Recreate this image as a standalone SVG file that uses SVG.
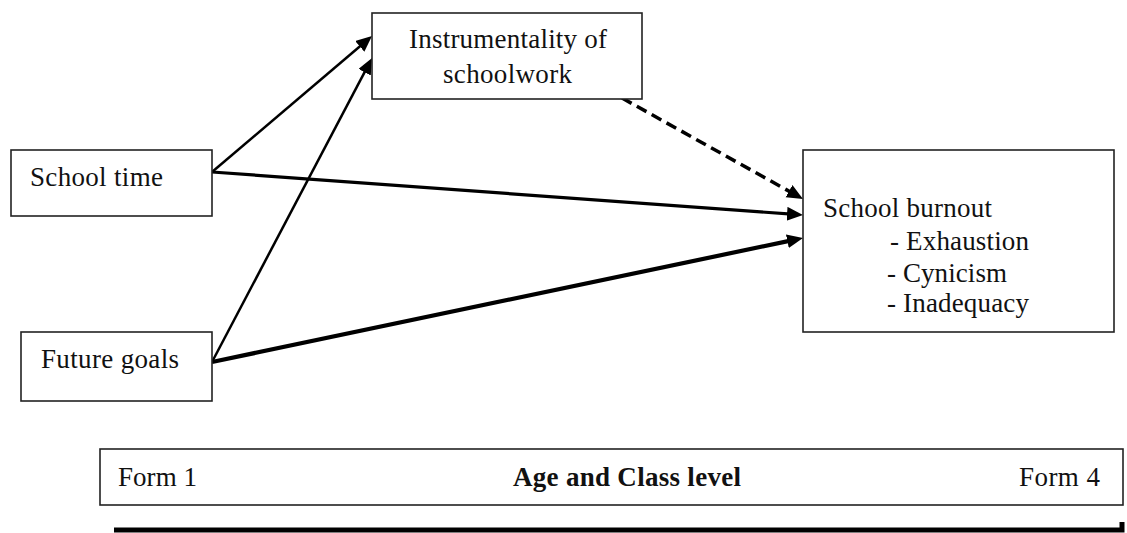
<svg xmlns="http://www.w3.org/2000/svg" width="1127" height="533" viewBox="0 0 1127 533">
<style>
.box{fill:#fff;stroke:#222;stroke-width:1.6}
.t{font-family:"Liberation Serif","Times New Roman",serif;font-size:27px;fill:#111}
.b{font-weight:bold}
.c{fill:none;stroke:#000;stroke-linecap:butt}
</style>
<defs>
<marker id="ah" markerUnits="userSpaceOnUse" markerWidth="18" markerHeight="16" refX="8" refY="7" orient="auto">
<path d="M0,0 L16,7 L0,14 z" fill="#000"/>
</marker>
</defs>
<rect width="1127" height="533" fill="#fff"/>
<g id="connectors">
<line class="c" x1="212" y1="172" x2="365.9" y2="41.2" stroke-width="2.5" marker-end="url(#ah)"/>
<line class="c" x1="212" y1="362" x2="368.3" y2="65.1" stroke-width="2.5" marker-end="url(#ah)"/>
<line class="c" x1="212" y1="172" x2="795.0" y2="214.4" stroke-width="3.2" marker-end="url(#ah)"/>
<line class="c" x1="212" y1="362" x2="795.2" y2="239.6" stroke-width="4.2" marker-end="url(#ah)"/>
<line class="c" x1="622" y1="98" x2="796.0" y2="195.1" stroke-width="3.5" stroke-dasharray="11,6" marker-end="url(#ah)"/>
</g>
<g id="instrumentality">
<rect class="box" x="372" y="13" width="270" height="86"/>
<text class="t" x="409" y="48" textLength="198">Instrumentality of</text>
<text class="t" x="443" y="83" textLength="129">schoolwork</text>
</g>
<g id="school-time">
<rect class="box" x="11" y="150" width="201" height="66"/>
<text class="t" x="30" y="186" textLength="133">School time</text>
</g>
<g id="future-goals">
<rect class="box" x="21" y="332" width="191" height="69"/>
<text class="t" x="41" y="368" textLength="138">Future goals</text>
</g>
<g id="school-burnout">
<rect class="box" x="803" y="150" width="311" height="182"/>
<text class="t" x="823" y="217" textLength="169">School burnout</text>
<text class="t" x="890" y="250" textLength="139">- Exhaustion</text>
<text class="t" x="887" y="282" textLength="120">- Cynicism</text>
<text class="t" x="887" y="312" textLength="142">- Inadequacy</text>
</g>
<g id="age-class-level">
<rect class="box" x="100" y="449" width="1023" height="56"/>
<text class="t" x="118" y="486" textLength="79">Form 1</text>
<text class="t b" x="513" y="486" textLength="228">Age and Class level</text>
<text class="t" x="1019" y="486" textLength="81">Form 4</text>
<path d="M114,530 L1122,530 L1122,522" fill="none" stroke="#000" stroke-width="5"/>
</g>
</svg>
